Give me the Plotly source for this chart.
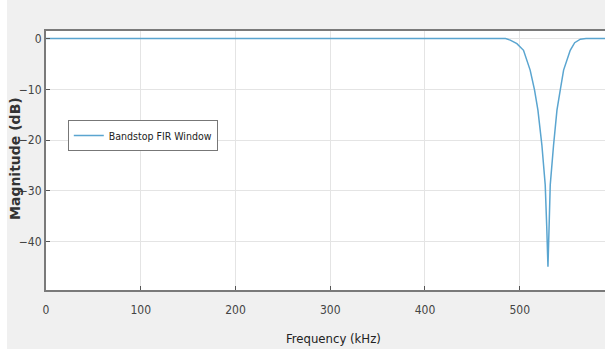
import plotly.graph_objects as go

freq_khz = [0, 100, 200, 300, 400, 480, 485, 490, 497, 504, 511, 515.6, 519.2, 523.4, 526.9,
            528.5, 529.8, 531, 532.2, 535.7, 539.3, 542.8, 546.3, 553.3, 558, 564, 570, 590]
mag_db = [0, 0, 0, 0, 0, 0, 0, -0.3, -1, -2.3, -6.2, -10.1, -14.1, -21, -28.8,
          -37, -44.9, -37, -28.8, -21, -14.1, -10.1, -6.2, -2.3, -0.8, -0.1, 0, 0]
x_ticks = [0, 100, 200, 300, 400, 500]
y_ticks = [0, -10, -20, -30, -40]
series_name = "Bandstop FIR Window"
x_title = "Frequency (kHz)"
y_title = "Magnitude (dB)"

font_family = "DejaVu Sans Condensed, Liberation Sans Narrow, sans-serif"

fig = go.Figure()
fig.add_trace(go.Scatter(x=freq_khz, y=mag_db, mode="lines", name=series_name,
                         line=dict(color="#5aa5d0", width=1.5)))

# light image border strip on the left edge
fig.add_shape(type="rect", xref="paper", yref="paper", x0=-46/559, x1=-39/559,
              y0=-59/259, y1=290/259, fillcolor="white", line=dict(width=0), layer="below")

# axis titles placed as annotations
fig.add_annotation(text=x_title, xref="paper", yref="paper", x=(333-46)/559, y=-(338-290)/259,
                   xanchor="center", yanchor="middle", showarrow=False,
                   font=dict(family=font_family, size=13, color="#222222"))
fig.add_annotation(text="<b>" + y_title + "</b>", xref="paper", yref="paper",
                   x=(15-46)/559, y=1-(159-31)/259, textangle=-90,
                   xanchor="center", yanchor="middle", showarrow=False,
                   font=dict(family="DejaVu Sans, sans-serif", size=14, color="#333333"))

fig.update_layout(
    width=605, height=349,
    margin=dict(l=46, r=0, t=31, b=59, autoexpand=False),
    paper_bgcolor="#f0f0f0", plot_bgcolor="white",
    font=dict(family=font_family, size=12, color="#333333"),
    showlegend=True,
    legend=dict(x=0.039, y=0.656, xanchor="left", yanchor="top",
                bgcolor="white", bordercolor="#777777", borderwidth=1,
                font=dict(family=font_family, size=10.5, color="#222222")),
    xaxis=dict(range=[0, 590], tickvals=x_ticks, showgrid=True, gridcolor="#e4e4e4",
               zeroline=False, showline=True, linecolor="#7a7a7a", linewidth=2, mirror=True,
               ticks="inside", ticklen=4, tickcolor="#555555", automargin=False,
               ticklabelstandoff=8, tickfont=dict(size=12, color="#444444")),
    yaxis=dict(range=[-49.5, 1.5], tickvals=y_ticks, showgrid=True, gridcolor="#e4e4e4",
               zeroline=False, showline=True, linecolor="#7a7a7a", linewidth=2, mirror=True,
               ticks="inside", ticklen=4, tickcolor="#555555", automargin=False,
               tickfont=dict(size=12, color="#444444")),
)

fig.write_html("out.html", config={"displayModeBar": False},
               post_script="document.body.style.margin='0';")
